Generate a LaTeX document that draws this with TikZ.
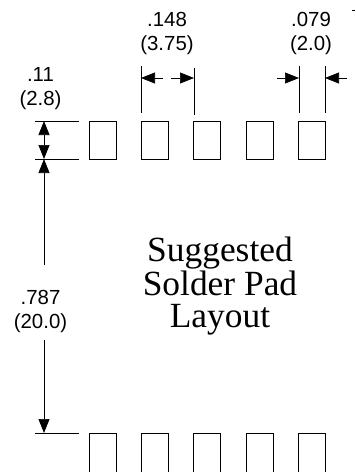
\documentclass[tikz,border=0pt]{standalone}
\usepackage{fontspec}
\setmainfont{Liberation Sans}
\newfontfamily\titlefont{Liberation Serif}
\usetikzlibrary{arrows.meta}
\tikzset{
  pad/.style={draw,line width=.7pt,minimum width=27pt,minimum height=38pt,inner sep=0pt},
  dimtext/.style={align=center,inner sep=0pt,font=\fontsize{20.4}{24}\selectfont},
  titletext/.style={align=center,inner sep=0pt,font=\titlefont\fontsize{35.4}{32}\selectfont},
}
\begin{document}
\begin{tikzpicture}[x=1pt,y=-1pt,>={Triangle[length=14pt,width=11pt]},line width=.7pt]
\useasboundingbox (0,0) rectangle (356,472);
% pads, upper and lower row
\foreach \n/\x in {1/102.5,2/154.5,3/207,4/259.5,5/312}{
  \node[pad] (t\n) at (\x,140){};
  \node[pad,minimum height=42pt] (b\n) at (\x,454){};
}
% side lines
\coordinate (la) at (35,121);
\coordinate (lb) at (79,121);
\coordinate (lc) at (35,159);
\coordinate (ld) at (79,159);
\coordinate (le) at (35,433);
\coordinate (lf) at (79,433);
\draw(la)--(lb);
\draw(lc)--(ld);
\draw(le)--(lf);
% left dimensions
\coordinate (va) at (44,121);
\coordinate (vb) at (44,159);
\coordinate (vc) at (44,265);
\coordinate (vd) at (44,340);
\coordinate (ve) at (44,433);
\draw[<->](va)--(vb);
\draw[->](vc)--(vb);
\draw[->](vd)--(ve);
% top lines
\coordinate (ua) at (141,66);
\coordinate (ub) at (141,113);
\coordinate (uc) at (194,68);
\coordinate (ud) at (194,115);
\coordinate (ue) at (299,66);
\coordinate (uf) at (299,113);
\coordinate (ug) at (325,66);
\coordinate (uh) at (325,113);
\draw(ua)--(ub);
\draw(uc)--(ud);
\draw(ue)--(uf);
\draw(ug)--(uh);
% top dimensions
\coordinate (ha) at (141,78);
\coordinate (hb) at (163,78);
\coordinate (hc) at (171,78);
\coordinate (hd) at (194,78);
\coordinate (he) at (277,78);
\coordinate (hf) at (299,78);
\coordinate (hg) at (347,78);
\coordinate (hh) at (325,78);
\draw[->](hb)--(ha);
\draw[->](hc)--(hd);
\draw[->](he)--(hf);
\draw[->](hg)--(hh);
% labels
\node[dimtext] (pitch) at (167,33){.148\\(3.75)};
\node[dimtext] (width) at (311,33){.079\\(2.0)};
\node[dimtext] (height) at (40.5,89){.11\\(2.8)};
\node[dimtext] (gap) at (40.5,311){.787\\(20.0)};
\node[titletext] (title) at (220,286){Suggested\\Solder Pad\\Layout};
\coordinate (ma) at (352,10);
\coordinate (mb) at (355,10);
\draw[line width=.6pt](ma)--(mb);
\end{tikzpicture}
\end{document}
